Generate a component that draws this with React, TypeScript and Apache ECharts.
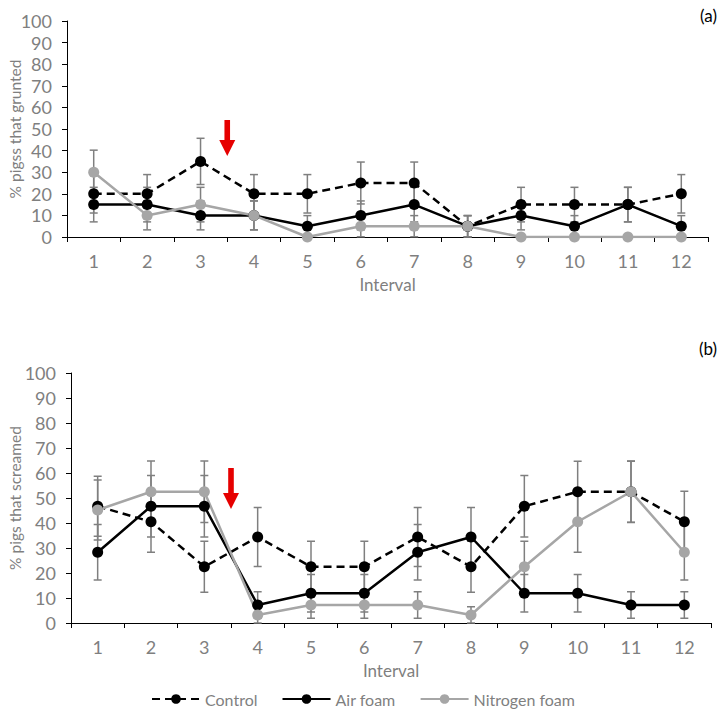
import React, { useEffect, useRef } from "react";
import * as echarts from "echarts";

const categories = ["1", "2", "3", "4", "5", "6", "7", "8", "9", "10", "11", "12"];

// (a) % pigs that grunted
const gruntControl = [20, 20, 35, 20, 20, 25, 25, 5, 15, 15, 15, 20];
const gruntControlErr = [8.9, 8.9, 10.7, 8.9, 8.9, 9.7, 9.7, 4.9, 8, 8, 8, 8.9];
const gruntAir = [15, 15, 10, 10, 5, 10, 15, 5, 10, 5, 15, 5];
const gruntAirErr = [8, 8, 6.7, 6.7, 4.9, 6.7, 8, 4.9, 6.7, 4.9, 8, 4.9];
const gruntNitrogen = [30, 10, 15, 10, 0, 5, 5, 5, 0, 0, 0, 0];
const gruntNitrogenErr = [10.2, 6.7, 8, 6.7, 0, 4.9, 4.9, 4.9, 0, 0, 0, 0];

// (b) % pigs that screamed
const screamControl = [46.7, 40.5, 22.5, 34.4, 22.5, 22.5, 34.4, 22.5, 46.7, 52.5, 52.5, 40.5];
const screamControlErr = [12, 12.2, 10.2, 11.8, 10.2, 10.2, 11.8, 10.2, 12.3, 12.2, 12.2, 12.2];
const screamAir = [28.3, 46.7, 46.7, 7.2, 11.9, 11.9, 28.3, 34.4, 11.9, 11.9, 7.2, 7.2];
const screamAirErr = [11.1, 12.3, 12.3, 5.3, 7.5, 7.5, 11.1, 11.8, 7.5, 7.5, 5.3, 5.3];
const screamNitrogen = [45.2, 52.5, 52.5, 3.2, 7.2, 7.2, 7.2, 3.2, 22.5, 40.5, 52.5, 28.3];
const screamNitrogenErr = [12, 12.3, 12.3, 3.3, 5.3, 5.3, 5.3, 3.3, 10.2, 12.2, 12.3, 11.1];

// red arrows: [category index to the left of the arrow, top value, tip value]
const gruntArrow = [2, 54.2, 37.5];
const screamArrow = [2, 62, 45.6];

const yTicks = { min: 0, max: 100, interval: 10 };
const seriesNames = ["Control", "Air foam", "Nitrogen foam"];

const FONT = "Lato";
const GREY = "#7f7f7f";

function errData(vals: number[], errs: number[]) {
  return vals.map((v, i) => [i, Math.max(0, v - errs[i]), v + errs[i], errs[i]]);
}

function errorSeries(idx: number, vals: number[], errs: number[]) {
  return {
    type: "custom",
    xAxisIndex: idx,
    yAxisIndex: idx,
    z: 1,
    silent: true,
    encode: { x: 0, y: [1, 2] },
    data: errData(vals, errs),
    renderItem: (params: any, api: any) => {
      if (api.value(3) <= 0) return null;
      const i = api.value(0);
      const hi = api.coord([i, api.value(2)]);
      const lo = api.coord([i, api.value(1)]);
      const hw = 4;
      const st = { stroke: GREY, lineWidth: 1.5 };
      return {
        type: "group",
        children: [
          { type: "line", shape: { x1: hi[0], y1: hi[1], x2: lo[0], y2: lo[1] }, style: st },
          { type: "line", shape: { x1: hi[0] - hw, y1: hi[1], x2: hi[0] + hw, y2: hi[1] }, style: st },
          { type: "line", shape: { x1: lo[0] - hw, y1: lo[1], x2: lo[0] + hw, y2: lo[1] }, style: st },
        ],
      };
    },
  };
}

function arrowSeries(idx: number, arrow: number[]) {
  return {
    type: "custom",
    xAxisIndex: idx,
    yAxisIndex: idx,
    z: 5,
    silent: true,
    encode: { x: 0, y: 1 },
    data: [arrow],
    renderItem: (params: any, api: any) => {
      const i = api.value(0);
      const a = api.coord([i, api.value(1)]);
      const b = api.coord([i + 1, api.value(1)]);
      const tip = api.coord([i, api.value(2)]);
      const x = (a[0] + b[0]) / 2;
      const y0 = a[1];
      const y1 = tip[1];
      const headLen = 16;
      const headW = 8;
      const shaftW = 2.8;
      const yh = y1 - headLen;
      return {
        type: "polygon",
        shape: {
          points: [
            [x - shaftW, y0],
            [x + shaftW, y0],
            [x + shaftW, yh],
            [x + headW, yh],
            [x, y1],
            [x - headW, yh],
            [x - shaftW, yh],
          ],
        },
        style: { fill: "#e60000" },
      };
    },
  };
}

function lineSeries(idx: number, name: string, vals: number[]) {
  const color = name === "Nitrogen foam" ? "#a6a6a6" : "#000000";
  return {
    type: "line",
    name,
    xAxisIndex: idx,
    yAxisIndex: idx,
    z: 2,
    data: vals,
    symbol: "circle",
    symbolSize: 11,
    itemStyle: { color },
    lineStyle: {
      color,
      width: 2.5,
      type: name === "Control" ? [8, 5] : "solid",
    },
  };
}

function xAxis(idx: number) {
  return {
    type: "category",
    gridIndex: idx,
    data: categories,
    boundaryGap: true,
    axisLine: { lineStyle: { color: "#000", width: 1 } },
    axisTick: { show: true, length: 5, lineStyle: { color: "#000" } },
    axisLabel: { color: GREY, fontSize: 18, fontFamily: FONT, margin: 15 },
    name: "Interval",
    nameLocation: "middle",
    nameGap: 39,
    nameTextStyle: { color: GREY, fontSize: 17, fontFamily: FONT },
    splitLine: { show: false },
  };
}

function yAxis(idx: number, name: string, gap: number) {
  return {
    type: "value",
    gridIndex: idx,
    ...yTicks,
    axisLine: { show: true, lineStyle: { color: "#000", width: 1 } },
    axisTick: { show: true, length: 5, lineStyle: { color: "#000" } },
    axisLabel: { color: GREY, fontSize: 18, fontFamily: FONT, margin: 15 },
    splitLine: { show: false },
    name,
    nameLocation: "middle",
    nameGap: gap,
    nameMoveOverlap: false,
    nameTextStyle: { color: GREY, fontSize: 15.5, fontFamily: FONT },
  };
}

export default function App() {
  const ref = useRef<HTMLDivElement>(null);
  useEffect(() => {
    document.body.style.margin = "0";
    const chart = echarts.init(ref.current!, undefined, { renderer: "svg" });
    const option = {
      animation: false,
      backgroundColor: "#ffffff",
      textStyle: { fontFamily: FONT },
      grid: [
        { left: 67, top: 21, width: 641, height: 216, outerBoundsMode: "none", containLabel: false },
        { left: 71, top: 373, width: 640, height: 250, outerBoundsMode: "none", containLabel: false },
      ],
      xAxis: [xAxis(0), xAxis(1)],
      yAxis: [yAxis(0, "% pigss that grunted", 44), yAxis(1, "% pigs that screamed", 48)],
      legend: {
        data: seriesNames,
        left: "center",
        top: 689,
        padding: 2,
        itemWidth: 48,
        itemHeight: 12,
        itemGap: 24,
        textStyle: { color: GREY, fontSize: 16, fontFamily: FONT },
      },
      graphic: [
        { type: "text", right: 9, top: 7, style: { text: "(a)", fill: "#000", fontSize: 17, fontFamily: FONT } },
        { type: "text", right: 9, top: 340, style: { text: "(b)", fill: "#000", fontSize: 17, fontFamily: FONT } },
      ],
      series: [
        errorSeries(0, gruntControl, gruntControlErr),
        errorSeries(0, gruntAir, gruntAirErr),
        errorSeries(0, gruntNitrogen, gruntNitrogenErr),
        lineSeries(0, "Control", gruntControl),
        lineSeries(0, "Air foam", gruntAir),
        lineSeries(0, "Nitrogen foam", gruntNitrogen),
        arrowSeries(0, gruntArrow),
        errorSeries(1, screamControl, screamControlErr),
        errorSeries(1, screamAir, screamAirErr),
        errorSeries(1, screamNitrogen, screamNitrogenErr),
        lineSeries(1, "Control", screamControl),
        lineSeries(1, "Air foam", screamAir),
        lineSeries(1, "Nitrogen foam", screamNitrogen),
        arrowSeries(1, screamArrow),
      ],
    };
    chart.setOption(option as any);
    return () => chart.dispose();
  }, []);
  return <div ref={ref} style={{ width: 726, height: 712 }} />;
}
